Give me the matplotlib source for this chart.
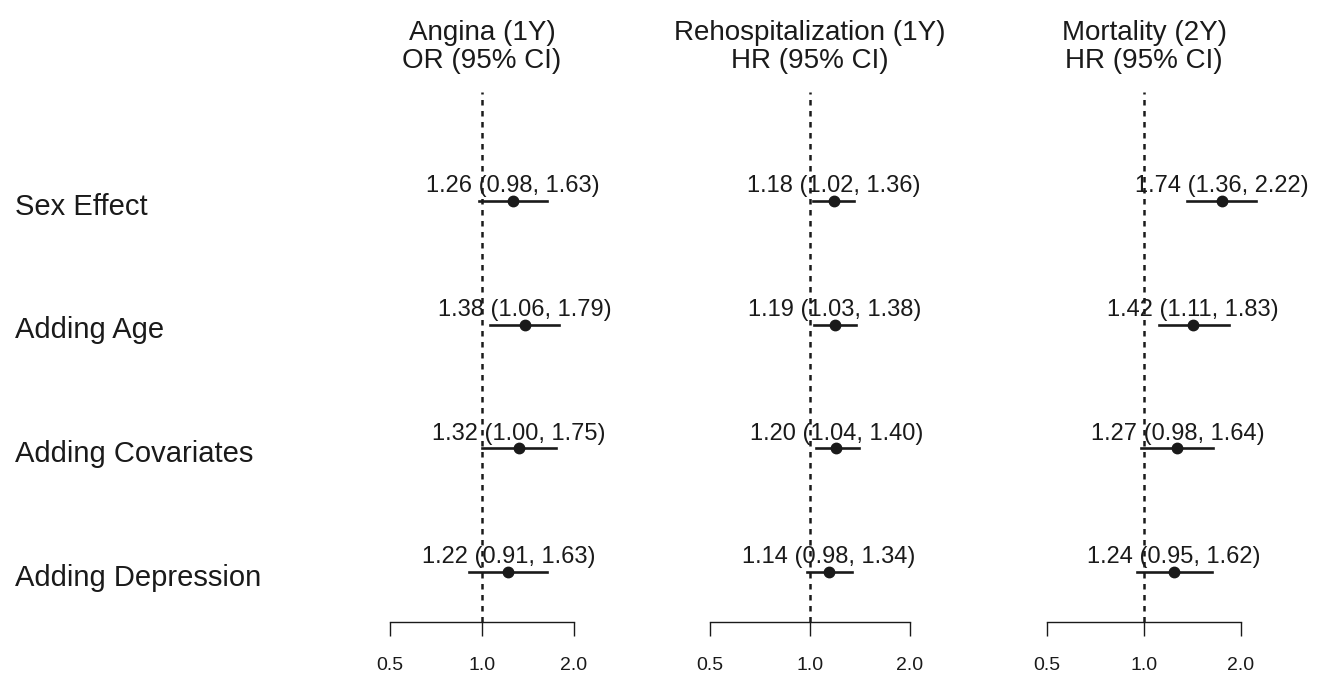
import matplotlib
matplotlib.use('Agg')
import matplotlib.pyplot as plt
from matplotlib.transforms import blended_transform_factory

plt.rcParams['font.family'] = ['Liberation Sans', 'DejaVu Sans']

# data
rows = ['Sex Effect', 'Adding Age', 'Adding Covariates', 'Adding Depression']
titles = [('Angina (1Y)', 'OR (95% CI)'),
          ('Rehospitalization (1Y)', 'HR (95% CI)'),
          ('Mortality (2Y)', 'HR (95% CI)')]

angina_est = [1.26, 1.38, 1.32, 1.22]
angina_lo = [0.98, 1.06, 1.00, 0.91]
angina_hi = [1.63, 1.79, 1.75, 1.63]

rehosp_est = [1.18, 1.19, 1.20, 1.14]
rehosp_lo = [1.02, 1.03, 1.04, 0.98]
rehosp_hi = [1.36, 1.38, 1.40, 1.34]

mort_est = [1.74, 1.42, 1.27, 1.24]
mort_lo = [1.36, 1.11, 0.98, 0.95]
mort_hi = [2.22, 1.83, 1.64, 1.62]

ticks = [0.5, 1.0, 2.0]
tick_labels = ['0.5', '1.0', '2.0']

panels = [(angina_est, angina_lo, angina_hi),
          (rehosp_est, rehosp_lo, rehosp_hi),
          (mort_est, mort_lo, mort_hi)]

W, H = 1324, 673
fig = plt.figure(figsize=(W / 100, H / 100), dpi=100)
col = '#1a1a1a'

# pixel extents of each panel (x of 0.5 and 2.0)
xpix = [(390, 574), (710, 910), (1047, 1241)]
top_px, bot_px = 92, 622
ypos = [4, 3, 2, 1]
ylim = (0.596, 4.881)

axes = []
for i, (est, lo, hi) in enumerate(panels):
    x0, x1 = xpix[i]
    ax = fig.add_axes([x0 / W, 1 - bot_px / H, (x1 - x0) / W, (bot_px - top_px) / H])
    ax.set_xscale('log')
    ax.set_xlim(0.5, 2.0)
    ax.set_ylim(*ylim)
    for s in ['top', 'right', 'left']:
        ax.spines[s].set_visible(False)
    ax.spines['bottom'].set_color(col)
    ax.spines['bottom'].set_linewidth(1.0)
    ax.set_yticks([])
    ax.minorticks_off()
    ax.set_xticks(ticks)
    ax.set_xticklabels(tick_labels, fontsize=14, color=col)
    ax.tick_params(axis='x', direction='out', length=10, width=1.0, color=col, pad=15)
    ax.patch.set_alpha(0)

    ax.axvline(1.0, color=col, linestyle=(0, (2.2, 2.2)), linewidth=1.8, zorder=1)

    for y, e, l, h in zip(ypos, est, lo, hi):
        ax.plot([l, h], [y, y], color=col, linewidth=1.9, clip_on=False, zorder=2)
        ax.plot([e], [y], 'o', color=col, markersize=7.5, clip_on=False, zorder=3)
        ax.annotate(f'{e:.2f} ({l:.2f}, {h:.2f})', xy=(e, y), xytext=(0, 10.5),
                    textcoords='offset points', ha='center', va='center',
                    fontsize=17, color=col, annotation_clip=False)

    tr = blended_transform_factory(ax.transData, fig.transFigure)
    ax.text(1.0, 1 - 33 / H, titles[i][0], transform=tr, ha='center', va='center',
            fontsize=20, color=col)
    ax.text(1.0, 1 - 61 / H, titles[i][1], transform=tr, ha='center', va='center',
            fontsize=20, color=col)
    axes.append(ax)

# row labels on the left
tr = blended_transform_factory(fig.transFigure, axes[0].transData)
for y, name in zip(ypos, rows):
    fig.text(15 / W, y - 0.045, name, transform=tr, ha='left', va='center',
             fontsize=21, color=col)

fig.savefig('out.png', dpi=100)
